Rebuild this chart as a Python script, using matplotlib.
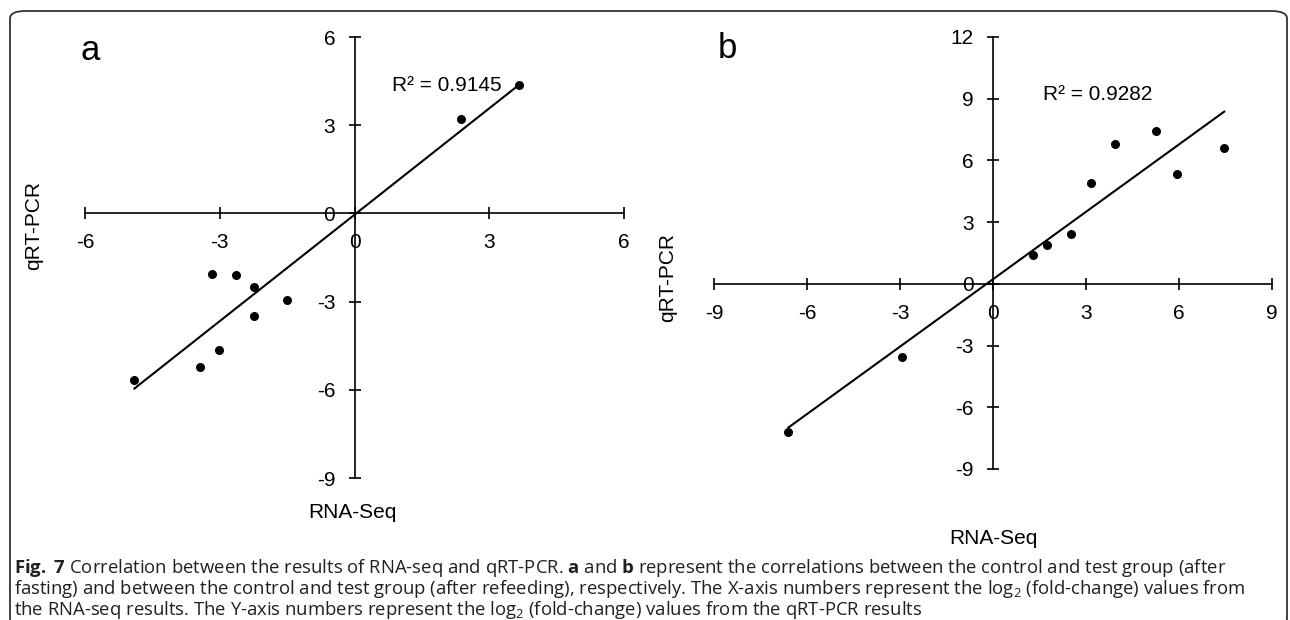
import numpy as np
import matplotlib
matplotlib.use("Agg")
import matplotlib.pyplot as plt
from matplotlib.patches import FancyBboxPatch

# values (log2 fold-change)
rna_a = [3.67, 2.38, -3.18, -2.63, -2.24, -1.51, -2.23, -3.02, -3.43, -4.90]
pcr_a = [4.38, 3.20, -2.06, -2.11, -2.49, -2.96, -3.48, -4.66, -5.22, -5.67]
rna_b = [-6.60, -2.93, 1.28, 1.73, 2.51, 3.16, 3.94, 5.26, 5.94, 7.46]
pcr_b = [-7.20, -3.56, 1.39, 1.91, 2.44, 4.90, 6.81, 7.41, 5.32, 6.59]
r2_a = "R² = 0.9145"
r2_b = "R² = 0.9282"
xticks_a = [-6, -3, 0, 3, 6]
yticks_a = [-9, -6, -3, 0, 3, 6]
xticks_b = [-9, -6, -3, 0, 3, 6, 9]
yticks_b = [-9, -6, -3, 0, 3, 6, 9, 12]

plt.rcParams['font.family'] = ['Liberation Sans', 'DejaVu Sans']
plt.rcParams['axes.unicode_minus'] = False
plt.rcParams['mathtext.fontset'] = 'custom'
plt.rcParams['mathtext.rm'] = 'Open Sans'
plt.rcParams['mathtext.bf'] = 'Open Sans:bold'

W, H = 1290, 620
fig = plt.figure(figsize=(W / 100, H / 100), dpi=100)


def box(x0, y0, x1, y1):
    return [x0 / W, 1 - y1 / H, (x1 - x0) / W, (y1 - y0) / H]


def panel(rect, x, y, xt, yt, r2, r2pos):
    ax = fig.add_axes(rect)
    ax.set_xlim(xt[0], xt[-1])
    ax.set_ylim(yt[0], yt[-1])
    ax.set_xticks(xt)
    ax.set_yticks(yt)
    for s in ['top', 'right']:
        ax.spines[s].set_visible(False)
    for s in ['left', 'bottom']:
        ax.spines[s].set_position(('data', 0))
        ax.spines[s].set_linewidth(1.2)
    ax.tick_params(direction='inout', length=8.6, width=1.2, labelsize=15)
    ax.tick_params(axis='x', pad=10)
    ax.tick_params(axis='y', pad=9.5)
    ax.patch.set_alpha(0)
    x = np.array(x)
    y = np.array(y)
    k, b = np.polyfit(x, y, 1)
    xs = np.array([x.min(), x.max()])
    ax.plot(xs, k * xs + b, color='black', lw=1.5, clip_on=False)
    ax.scatter(x, y, s=30, color='black', zorder=3, clip_on=False)
    ax.text(r2pos[0], r2pos[1], r2, fontsize=15, ha='left', va='center')
    return ax


panel(box(85, 37, 624, 478), rna_a, pcr_a, xticks_a, yticks_a, r2_a, (0.84, 4.35))
panel(box(714, 37, 1272, 469), rna_b, pcr_b, xticks_b, yticks_b, r2_b, (1.6, 9.22))

fig.text(90 / W, 1 - 60 / H, 'a', fontsize=25, ha='center', va='baseline')
fig.text(727 / W, 1 - 58 / H, 'b', fontsize=25, ha='center', va='baseline')
fig.text(34 / W, 1 - 226 / H, 'qRT-PCR', fontsize=15, rotation=90, ha='center', va='center')
fig.text(668 / W, 1 - 277 / H, 'qRT-PCR', fontsize=15, rotation=90, ha='center', va='center')
fig.text(352 / W, 1 - 512 / H, 'RNA-Seq', fontsize=15, ha='center', va='center')
fig.text(993 / W, 1 - 539 / H, 'RNA-Seq', fontsize=15, ha='center', va='center')

cap = [
    r"$\mathbf{Fig.}$ $\mathbf{7}$ Correlation between the results of RNA-seq and qRT-PCR. $\mathbf{a}$ and $\mathbf{b}$ "
    "represent the correlations between the control and test group (after",
    "fasting) and between the control and test group (after refeeding), respectively. "
    r"The X-axis numbers represent the log$_2$ (fold-change) values from",
    r"the RNA-seq results. The Y-axis numbers represent the log$_2$ (fold-change) values from the qRT-PCR results",
]
for i, line in enumerate(cap):
    fig.text(14 / W, 1 - (573 + 21 * i) / H, line, fontsize=13.3, family='Open Sans',
             color='#231f20', ha='left', va='baseline')

frame = FancyBboxPatch((10 / W, -6 / H), 1277 / W, (H - 11 + 6) / H,
                       boxstyle='round,pad=0,rounding_size=0.012',
                       transform=fig.transFigure, fill=False, lw=1.3, ec='#333333')
fig.patches.append(frame)

fig.savefig('out.png', dpi=100)
